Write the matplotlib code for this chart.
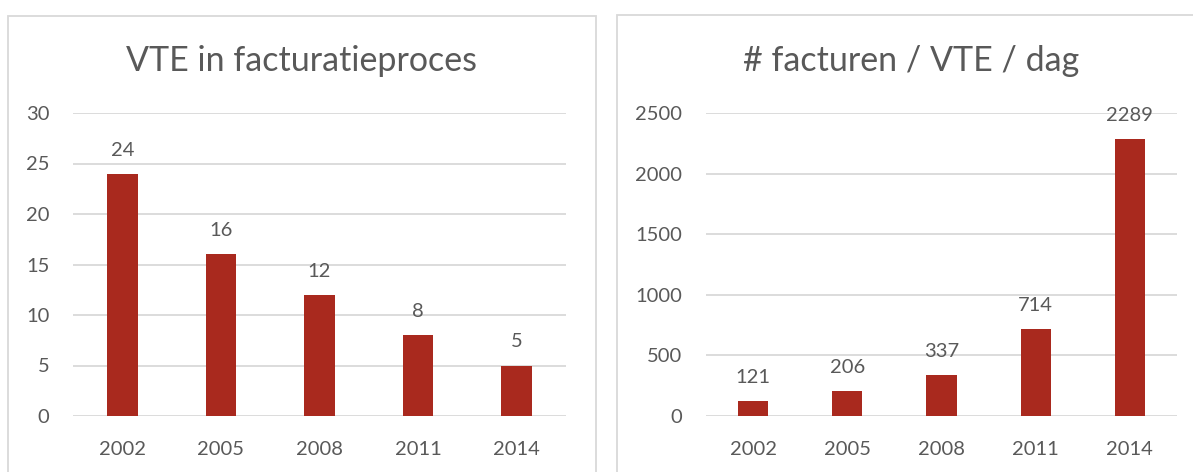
import matplotlib
matplotlib.use("Agg")
import matplotlib.pyplot as plt
from matplotlib.patches import Rectangle

years = ["2002", "2005", "2008", "2011", "2014"]
vte = [24, 16, 12, 8, 5]
invoices_per_vte = [121, 206, 337, 714, 2289]

left_ticks = [0, 5, 10, 15, 20, 25, 30]
right_ticks = [0, 500, 1000, 1500, 2000, 2500]

BAR = "#A9291E"
TEXT = "#595959"
GRID = "#D9D9D9"

plt.rcParams["font.family"] = ["Lato", "DejaVu Sans"]

W, H = 1193, 472
fig = plt.figure(figsize=(W / 100, H / 100), dpi=100)


def px(x0, y0, x1, y1):
    # pixel box (top-left origin) -> figure fraction rect
    return [x0 / W, 1 - y1 / H, (x1 - x0) / W, (y1 - y0) / H]


# chart frames
for x0, y0, x1, y1 in [(8, 16, 596, 480), (617, 15, 1210, 480)]:
    fig.patches.append(Rectangle((x0 / W, 1 - y1 / H), (x1 - x0) / W, (y1 - y0) / H,
                                 transform=fig.transFigure, fill=False,
                                 edgecolor=GRID, linewidth=1.3))


def bar_panel(rect, values, ticks, width, title, title_x):
    ax = fig.add_axes(rect)
    x = range(len(values))
    ax.bar(x, values, width=width, color=BAR, zorder=3)
    ax.set_xlim(-0.5, len(values) - 0.5)
    ax.set_ylim(ticks[0], ticks[-1])
    ax.set_yticks(ticks)
    ax.set_xticks(list(x))
    ax.set_xticklabels(years)
    ax.grid(axis="y", color=GRID, linewidth=1.3, zorder=0)
    ax.tick_params(axis="both", length=0, labelsize=14.5, labelcolor=TEXT)
    ax.tick_params(axis="y", pad=17)
    ax.tick_params(axis="x", pad=18)
    for s in ax.spines.values():
        s.set_visible(False)
    for xi, v in zip(x, values):
        ax.annotate(str(v), (xi, v), xytext=(0, 13), textcoords="offset points",
                    ha="center", va="baseline", fontsize=14.5, color=TEXT)
    fig.text(title_x / W, 1 - 61 / H, title, ha="center", va="center",
             fontsize=24.5, color=TEXT)
    return ax


bar_panel(px(73, 113, 566, 416), vte, left_ticks, 0.31, "VTE in facturatieproces", 302)
bar_panel(px(706, 113, 1177, 416), invoices_per_vte, right_ticks, 0.32,
          "# facturen / VTE / dag", 911)

fig.savefig("out.png", dpi=100, facecolor="white")
